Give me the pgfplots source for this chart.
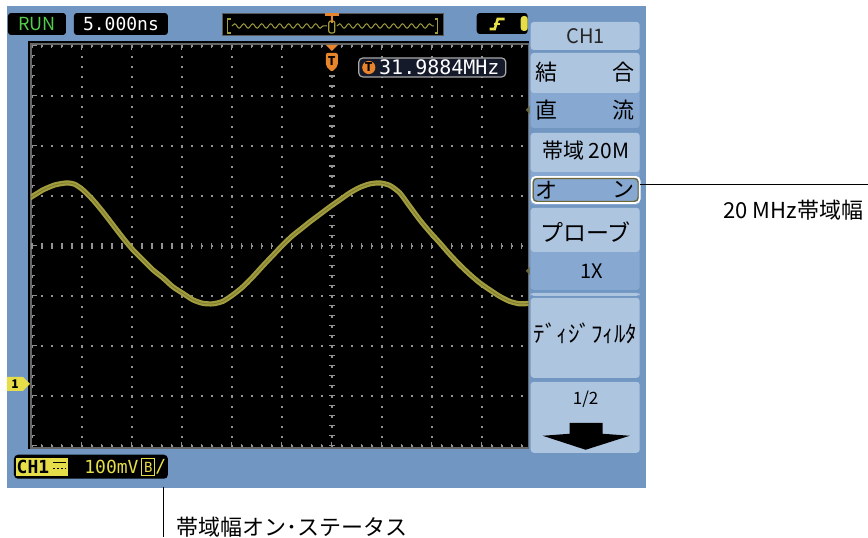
\documentclass[border=0pt]{standalone}
\usepackage{fontspec}
\setmainfont{Noto Sans CJK JP}
\newfontfamily\mono{DejaVu Sans Mono}
\usepackage{pgfplots}
\usepackage{pgfplotstable}
\pgfplotsset{compat=1.18}
\usetikzlibrary{decorations.pathmorphing}

\definecolor{panel}{HTML}{7196C2}
\definecolor{btn}{HTML}{AEC5E0}
\definecolor{btnsel}{HTML}{87A8D0}
\definecolor{trace}{HTML}{A19D3E}
\definecolor{tracedark}{HTML}{5E5B22}
\definecolor{scopeyellow}{HTML}{E6DE48}
\definecolor{scopeorange}{HTML}{E8842C}
\definecolor{rungreen}{HTML}{52CC4A}
\definecolor{griddot}{HTML}{929292}
\definecolor{freqbg}{HTML}{141A2A}
\definecolor{olivebr}{HTML}{6A6638}

% CH1 trace, divisions (x: 5 ns/div from centre, y: 100 mV/div)
\pgfplotstableread{
x y
-6.04 0.96
-5.78 1.12
-5.54 1.22
-5.30 1.26
-5.14 1.23
-4.98 1.12
-4.78 0.92
-4.58 0.68
-4.38 0.42
-4.18 0.16
-3.98 -0.08
-3.78 -0.28
-3.58 -0.48
-3.38 -0.64
-3.18 -0.82
-2.98 -0.95
-2.78 -1.08
-2.58 -1.15
-2.38 -1.16
-2.18 -1.11
-1.98 -0.98
-1.78 -0.82
-1.58 -0.62
-1.38 -0.40
-1.18 -0.19
-0.98 0.02
-0.78 0.21
-0.64 0.32
-0.44 0.48
-0.24 0.63
-0.04 0.78
0.16 0.92
0.36 1.06
0.56 1.17
0.76 1.24
0.96 1.26
1.16 1.21
1.36 1.06
1.56 0.79
1.76 0.52
1.96 0.28
2.16 0.06
2.36 -0.17
2.56 -0.38
2.76 -0.57
2.96 -0.74
3.16 -0.88
3.36 -1.01
3.56 -1.11
3.76 -1.16
3.96 -1.15
}\chone

\begin{document}
\begin{tikzpicture}
\begin{scope}[x=0.5pt,y=-0.5pt]
  \useasboundingbox (0,0) rectangle (868,537);
  \fill[white] (0,0) rectangle (868,537);
  \fill[panel] (7,6) rectangle (646,488);
  \fill[black] (28,41) rectangle (529,449);
\end{scope}

\begin{axis}[
  at={(15.5pt,-224pt)}, anchor=south west,
  scale only axis, width=249pt, height=202pt,
  xmin=-6.02, xmax=3.94, ymin=-4.04, ymax=4.04,
  axis background/.style={fill=black},
  axis line style={draw=griddot!70!black, line width=0.8pt},
  xtick distance=1, ytick distance=1,
  minor x tick num=4, minor y tick num=4,
  xticklabels={}, yticklabels={},
  ytick pos=left,
  tick align=inside,
  major tick length=3pt, minor tick length=2pt,
  every tick/.style={griddot, line width=0.5pt},
  grid=major,
  major grid style={griddot, line width=0.95pt, dash pattern=on 0.95pt off 4.05pt},
]
  \pgfplotsinvokeforeach{-20,...,20}{
    \draw[griddot, line width=0.6pt] (axis cs:-0.06,#1/5) -- (axis cs:0.06,#1/5);
  }
  \pgfplotsinvokeforeach{-30,...,19}{
    \draw[griddot, line width=0.6pt] (axis cs:#1/5,-0.06) -- (axis cs:#1/5,0.06);
  }
  \addplot[trace, line width=2.6pt, smooth, tension=0.4] table {\chone};
  \addplot[tracedark, line width=0.4pt, smooth, tension=0.4, opacity=0.55] table {\chone};
\end{axis}

\begin{scope}[x=0.5pt,y=-0.5pt]
  % top status bar
  \fill[black, rounded corners=1.5pt] (8,13) rectangle (66,35);
  \node[rungreen, font=\fontsize{9}{10}\selectfont] at (37,24) {RUN};
  \fill[black, rounded corners=1.5pt] (74,13) rectangle (168,35);
  \node[white, font=\mono\fontsize{9}{10}\selectfont] at (121,24) {5.000ns};
  \filldraw[fill=black, draw=griddot!60!black, line width=0.5pt] (223,13) rectangle (444,36);
  \draw[trace, line width=0.5pt, decorate, decoration={snake, segment length=4.5pt, amplitude=1.1pt}] (232,26) -- (327,26);
  \draw[trace, line width=0.5pt, decorate, decoration={snake, segment length=4.5pt, amplitude=1.1pt}] (337,26) -- (434,26);
  \draw[trace, line width=0.6pt] (231,19) -- (228,19) -- (228,33) -- (231,33);
  \draw[trace, line width=0.6pt] (435,19) -- (438,19) -- (438,33) -- (435,33);
  \draw[trace, line width=0.6pt, rounded corners=1pt] (329,21) rectangle (335,33);
  \draw[scopeorange, line width=1.1pt] (325,14.5) -- (339,14.5) (332,14.5) -- (332,23);
  \fill[black, rounded corners=1.5pt] (477,13) rectangle (528,34);
  \draw[scopeyellow, line width=1.3pt] (490,29) -- (495,29) -- (498,19) -- (505,19);
  \draw[scopeyellow, line width=1pt] (494,24) -- (500,24);
  \fill[scopeyellow, rounded corners=1.5pt] (521,16) rectangle (528,31);

  % trigger marker and frequency readout
  \fill[scopeorange] (326,45) -- (338,45) -- (332,51) -- cycle;
  \fill[scopeorange, rounded corners=1pt] (326,53) -- (338,53) -- (338,66) -- (332,72) -- (326,66) -- cycle;
  \node[black, font=\bfseries\fontsize{6}{6}\selectfont] at (332,61) {T};
  \filldraw[fill=freqbg, draw=griddot!80!white, line width=0.6pt, rounded corners=2pt] (359,58) rectangle (506,77);
  \fill[scopeorange] (369,67.5) circle[radius=3.3pt];
  \node[black, font=\bfseries\fontsize{6}{6}\selectfont] at (369,67.5) {T};
  \node[white, anchor=west, inner sep=0pt, font=\mono\fontsize{10}{10}\selectfont] at (379,67.5) {31.9884MHz};

  % channel marker
  \fill[scopeyellow] (7,377) -- (23,377) -- (30,384) -- (23,391) -- (7,391) -- cycle;
  \node[black, font=\bfseries\fontsize{6}{6}\selectfont] at (15,384) {1};

  % bottom status
  \fill[black, rounded corners=2pt] (14,455) rectangle (168,479);
  \fill[scopeyellow] (16,458) rectangle (68,476);
  \node[black, font=\mono\bfseries\fontsize{9}{10}\selectfont] at (33,467) {CH1};
  \draw[black, line width=0.7pt] (53,463) -- (66,463);
  \draw[black, line width=0.7pt, dash pattern=on 1pt off 1pt] (53,469) -- (66,469);
  \node[scopeyellow, anchor=west, inner sep=0pt, font=\mono\fontsize{9}{10}\selectfont] at (84,467) {100mV};
  \draw[scopeyellow, line width=0.5pt] (142,459) rectangle (155,476);
  \node[scopeyellow, font=\mono\fontsize{7}{7}\selectfont] at (148.5,467.5) {B};
  \node[scopeyellow, font=\mono\fontsize{9}{10}\selectfont] at (161,467) {/};

  % right menu
  \fill[btn, rounded corners=1.5pt] (531,22) rectangle (640,50);
  \node[black!85, font=\fontsize{10}{12}\selectfont] at (586,36) {CH1};
  \fill[btnsel, rounded corners=1.5pt] (531,53) rectangle (640,128);
  \fill[btn, rounded corners=1.5pt] (531,53) rectangle (640,93);
  \node[black, font=\fontsize{11}{12}\selectfont] at (547,72) {結};
  \node[black, font=\fontsize{11}{12}\selectfont] at (624,72) {合};
  \node[black, font=\fontsize{11}{12}\selectfont] at (547,110) {直};
  \node[black, font=\fontsize{11}{12}\selectfont] at (624,110) {流};
  \fill[olivebr] (526,110) -- (530,106) -- (530,114) -- cycle;

  \fill[btnsel, rounded corners=1.5pt] (531,133) rectangle (640,205);
  \fill[btn, rounded corners=1.5pt] (531,133) rectangle (640,172);
  \node[black, font=\fontsize{10.5}{12}\selectfont] at (586,151) {帯域 20M};
  \draw[white, line width=0.9pt, rounded corners=2pt] (532,177) rectangle (640,203);
  \draw[olivebr, line width=0.6pt, rounded corners=2pt] (533.5,178.5) rectangle (638.5,201.5);
  \node[black, font=\fontsize{11}{12}\selectfont] at (547,190) {オ};
  \node[black, font=\fontsize{11}{12}\selectfont] at (624,190) {ン};

  \fill[btnsel, rounded corners=1.5pt] (531,208) rectangle (640,290);
  \fill[btn, rounded corners=1.5pt] (531,208) rectangle (640,252);
  \node[black, font=\fontsize{11.5}{12}\selectfont] at (586,232) {プローブ};
  \node[black, font=\fontsize{10}{12}\selectfont] at (592,271) {1X};
  \fill[olivebr] (526,271) -- (530,267) -- (530,275) -- cycle;

  \fill[btn, rounded corners=1.5pt] (531,293) rectangle (640,296);
  \fill[btn, rounded corners=1.5pt] (531,298) rectangle (640,378);
  \node[black, font=\fontsize{11.5}{12}\selectfont] at (586,334) {ﾃﾞｨｼﾞﾌｨﾙﾀ};

  \fill[btn, rounded corners=1.5pt] (531,382) rectangle (640,453);
  \node[black, font=\fontsize{8.5}{10}\selectfont] at (586,399) {1/2};
  \fill[black] (570,423) -- (603,423) -- (603,434) -- (630,436) -- (586,450) -- (543,436) -- (570,434) -- cycle;

  % callouts
  \draw[black, line width=0.5pt] (640,185) -- (868,185);
  \node[black, anchor=east, inner sep=0pt, font=\fontsize{11}{12}\selectfont] at (864,210) {20 MHz帯域幅};
  \draw[black, line width=0.5pt] (164,487) -- (164,537);
  \node[black, anchor=west, inner sep=0pt, font=\fontsize{11}{12}\selectfont] at (176,527) {帯域幅オン･ステータス};
\end{scope}
\end{tikzpicture}
\end{document}
